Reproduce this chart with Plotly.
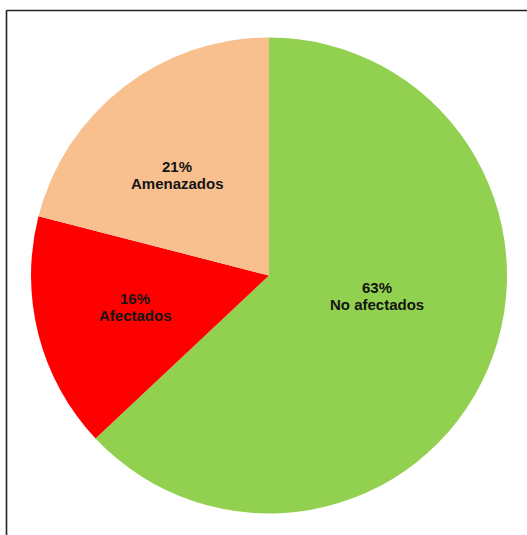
import plotly.graph_objects as go

labels = ["No afectados", "Afectados", "Amenazados"]
values = [63, 16, 21]
colors = ["#92D050", "#FF0000", "#F8C08F"]
# label centres (pixel positions in the 527x535 page)
label_px = [(377, 296), (135, 307), (177, 175)]

W, H = 527, 535
LINE_GAP = 17.5  # px between the two text lines

fig = go.Figure(go.Pie(
    labels=labels,
    values=values,
    marker=dict(colors=colors, line=dict(width=0)),
    sort=False,
    direction="clockwise",
    rotation=0,
    textinfo="none",
    hoverinfo="label+percent",
    showlegend=False,
    domain=dict(x=[31 / W, 507 / W], y=[(H - 514) / H, (H - 37) / H]),
))

font = dict(family="Liberation Sans, Arial, sans-serif", size=15, color="#141414", weight="bold")
for lab, val, (px, py) in zip(labels, values, label_px):
    for txt, off in ((f"{val}%", -LINE_GAP / 2), (lab, LINE_GAP / 2)):
        fig.add_annotation(
            x=px / W, y=1 - (py + off) / H, xref="paper", yref="paper",
            text=txt, showarrow=False,
            xanchor="center", yanchor="middle", align="center",
            font=font,
        )

# frame lines (top and left)
fig.add_shape(type="line", xref="paper", yref="paper",
              x0=6.5 / W, x1=1, y0=1 - 10.5 / H, y1=1 - 10.5 / H,
              line=dict(color="#222222", width=1.6))
fig.add_shape(type="line", xref="paper", yref="paper",
              x0=6.5 / W, x1=6.5 / W, y0=0, y1=1 - 10.5 / H,
              line=dict(color="#222222", width=1.6))

fig.update_layout(
    width=W, height=H,
    margin=dict(l=0, r=0, t=0, b=0),
    paper_bgcolor="white",
    plot_bgcolor="white",
)

fig.write_html("out.html")
